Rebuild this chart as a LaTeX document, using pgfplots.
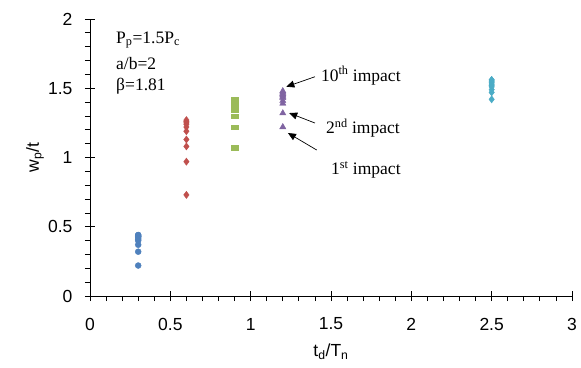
\documentclass[border=0pt]{standalone}
\usepackage{pgfplots}
\pgfplotsset{compat=1.18}
\usepackage{fontspec}
\setmainfont{Liberation Sans}
\newfontfamily\serif{Liberation Serif}
\usetikzlibrary{arrows.meta}
\definecolor{cblue}{HTML}{4F81BD}
\definecolor{cred}{HTML}{C0504D}
\definecolor{cgreen}{HTML}{9BBB59}
\definecolor{cpurple}{HTML}{8064A2}
\definecolor{ccyan}{HTML}{4BACC6}
\begin{document}
\begin{tikzpicture}
\begin{axis}[
  scale only axis, width=482bp, height=277bp,
  xmin=0, xmax=3, ymin=0, ymax=2,
  axis lines*=left, axis line style={-, black, line width=0.8bp},
  xtick={0,0.5,1,1.5,2,2.5,3}, ytick={0,0.5,1,1.5,2},
  minor x tick num=4, minor y tick num=4,
  tick align=outside, major tick length=10bp, minor tick length=5bp,
  major x tick style={yshift=5bp}, major y tick style={xshift=5bp},
  tick style={black, line width=0.8bp},
  /pgf/number format/assume math mode=true,
  ticklabel style={font=\fontsize{17.5bp}{19bp}\selectfont},
  xticklabel style={anchor=center, yshift=-18bp},
  yticklabel style={anchor=east, xshift=-4bp},
  xlabel={t\textsubscript{d}/T\textsubscript{n}},
  ylabel={w\textsubscript{p}/t},
  label style={font=\fontsize{17.5bp}{19bp}\selectfont},
  xlabel style={at={(rel axis cs:0.5,0)}, anchor=center, yshift=-56bp},
  ylabel style={at={(rel axis cs:0,0.5)}, anchor=center, yshift=55bp},
  clip=false,
]
\addplot[only marks, mark=*, mark size=3bp, color=cblue] coordinates {
(0.3,0.22) (0.3,0.32) (0.3,0.37) (0.3,0.40) (0.3,0.41) (0.3,0.42) (0.3,0.43) (0.3,0.43) (0.3,0.44) (0.3,0.44)};
\addplot[only marks, mark=diamond*, mark size=3.6bp, color=cred] coordinates {
(0.6,0.73) (0.6,0.97) (0.6,1.08) (0.6,1.13) (0.6,1.19) (0.6,1.22) (0.6,1.24) (0.6,1.25) (0.6,1.26) (0.6,1.27)};
\addplot[only marks, mark=square*, mark size=2.2bp, mark options={xscale=1.6}, color=cgreen] coordinates {
(0.9,1.07) (0.9,1.22) (0.9,1.30) (0.9,1.34) (0.9,1.36) (0.9,1.38) (0.9,1.39) (0.9,1.40) (0.9,1.41) (0.9,1.42)};
\addplot[only marks, mark=triangle*, mark size=3.6bp, color=cpurple] coordinates {
(1.2,1.22) (1.2,1.32) (1.2,1.39) (1.2,1.41) (1.2,1.43) (1.2,1.44) (1.2,1.45) (1.2,1.46) (1.2,1.47) (1.2,1.48)};
\addplot[only marks, mark=diamond*, mark size=3.6bp, color=ccyan] coordinates {
(2.5,1.42) (2.5,1.47) (2.5,1.49) (2.5,1.51) (2.5,1.52) (2.5,1.53) (2.5,1.54) (2.5,1.55) (2.5,1.56) (2.5,1.56)};
\begin{scope}[font=\serif\fontsize{17.5bp}{20bp}\selectfont]
\node[anchor=west, inner sep=0pt] at (axis cs:0.162,1.848) {P\textsubscript{p}=1.5P\textsubscript{c}};
\node[anchor=west, inner sep=0pt] at (axis cs:0.162,1.682) {a/b=2};
\node[anchor=west, inner sep=0pt] at (axis cs:0.162,1.516) {β=1.81};
\node[anchor=base west, inner sep=0pt] at (axis cs:1.437,1.552) {10\textsuperscript{th} impact};
\node[anchor=base west, inner sep=0pt] at (axis cs:1.469,1.170) {2\textsuperscript{nd} impact};
\node[anchor=base west, inner sep=0pt] at (axis cs:1.500,0.874) {1\textsuperscript{st} impact};
\end{scope}
\draw[line width=0.7bp, -{Triangle[length=8bp,width=7bp]}] (axis cs:1.400,1.583) -- (axis cs:1.222,1.511);
\draw[line width=0.7bp, -{Triangle[length=8bp,width=7bp]}] (axis cs:1.400,1.249) -- (axis cs:1.240,1.321);
\draw[line width=0.7bp, -{Triangle[length=8bp,width=7bp]}] (axis cs:1.411,1.054) -- (axis cs:1.232,1.177);
\end{axis}
\pgfresetboundingbox
\path ([shift={(-90bp,-72bp)}]current axis.south west) rectangle ([shift={(9bp,19bp)}]current axis.north east);
\end{tikzpicture}
\end{document}
